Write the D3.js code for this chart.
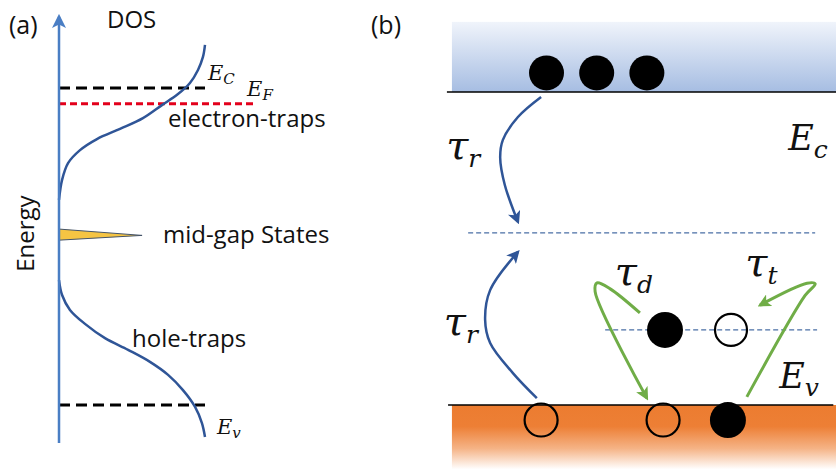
<!DOCTYPE html>
<html>
<head>
<meta charset="utf-8">
<script src="https://cdn.jsdelivr.net/npm/d3@7"></script>
<style>
  body { margin: 0; background: #fff; }
  text { font-family: "Open Sans", sans-serif; fill: #111; }
</style>
</head>
<body>
<div id="container"></div>
<script>
// Width and height
let w = 836;
let h = 472;

// ---- panel (a) data: energy 0 = Ev, 1 = Ec ; dos in arbitrary units ----
// [dos, energy]
let electronTail = [[0, 0.647], [0.021, 0.710], [0.062, 0.763], [0.144, 0.804], [0.260, 0.839], [0.418, 0.871],
                    [0.575, 0.905], [0.705, 0.946], [0.815, 0.981], [0.897, 1.016], [0.952, 1.057], [0.986, 1.098], [1.0, 1.136]];
let holeTail = [[0, 0.394], [0.021, 0.347], [0.075, 0.300], [0.178, 0.256], [0.315, 0.211], [0.473, 0.174],
                [0.623, 0.136], [0.747, 0.095], [0.849, 0.047], [0.932, -0.006], [0.979, -0.057], [1.0, -0.101]];
let midGapSpike = [[0, 0.555], [0.569, 0.535], [0, 0.52]];
let levelNames = ["Ec", "EF", "Ev"];
let levelEnergies = [1.0, 0.95, 0.0];
let levelExtents = [1.0, 1.34, 1.0];
let axisEnergy = [-0.12, 1.225];
let labelsA = ["electron-traps", "mid-gap States", "hole-traps"];
let labelsADos = [0.747, 0.712, 0.5];
let labelsAEnergy = [0.877, 0.511, 0.183];
let mathA = [["E", "C"], ["E", "F"], ["E", "v"]];
let mathADos = [1.02, 1.288, 1.082];
let mathAEnergy = [1.025, 0.975, -0.091];

// ---- panel (b) data: x position 0..100, energy 0 = Ev, 1 = Ec ----
let cbTop = 1.224, vbBottom = -0.214;
let midGapLevel = 0.55, trapLevel = 0.24;
let cbElectrons = [25, 38, 51];
let cbElectronE = 1.061;
let trapFilled = [55.7];
let trapEmpty = [72.8];
let vbHoles = [23.6, 55.2];
let vbElectrons = [72];
let vbCarrierE = -0.048;
// [x, energy]
let tauRDown = [[23.6, 0.984], [17.6, 0.920], [13.7, 0.847], [13.0, 0.790], [14.2, 0.703], [17.6, 0.585]];
let tauRUp = [[22.5, 0.022], [16.3, 0.102], [10.4, 0.198], [9.1, 0.272], [10.4, 0.367], [17.6, 0.489]];
let tauD = [[49.2, 0.294], [41.5, 0.371], [38.1, 0.390], [37.6, 0.362], [51.0, 0.022]];
let tauT = [[76.9, 0.026], [92.0, 0.350], [94.6, 0.387], [92.5, 0.389], [80.3, 0.319]];
let mathB = [["E", "c"], ["τ", "r"], ["τ", "r"], ["τ", "d"], ["τ", "t"], ["E", "v"]];
let mathBX = [87.6, -1.0, -1.6, 42.7, 76.5, 85.3];
let mathBEnergy = [0.815, 0.786, 0.224, 0.383, 0.412, 0.054];

// Create SVG
let svg = d3.select("#container")
  .append("svg")
  .attr("width", w)
  .attr("height", h);

let defs = svg.append("defs");

function arrowMarker(id, color, size) {
  defs.append("marker")
    .attr("id", id)
    .attr("viewBox", "0 0 10 10")
    .attr("refX", 8).attr("refY", 5)
    .attr("markerUnits", "userSpaceOnUse")
    .attr("markerWidth", size).attr("markerHeight", size)
    .attr("orient", "auto")
    .append("path")
    .attr("d", "M0,0 L10,5 L0,10 L2.5,5 z")
    .attr("fill", color);
}
arrowMarker("arrAxis", "#4a7ec4", 14);
arrowMarker("arrBlue", "#2f5597", 13);
arrowMarker("arrGreen", "#70ad47", 13);

let gBlue = defs.append("linearGradient").attr("id", "cbGrad").attr("x1", 0).attr("y1", 0).attr("x2", 0).attr("y2", 1);
gBlue.append("stop").attr("offset", "0%").attr("stop-color", "#f0f4fb");
gBlue.append("stop").attr("offset", "100%").attr("stop-color", "#a6bde2");
let gOrange = defs.append("linearGradient").attr("id", "vbGrad").attr("x1", 0).attr("y1", 0).attr("x2", 0).attr("y2", 1);
gOrange.append("stop").attr("offset", "0%").attr("stop-color", "#ec7c30");
gOrange.append("stop").attr("offset", "32%").attr("stop-color", "#ed7f35");
gOrange.append("stop").attr("offset", "65%").attr("stop-color", "#f5b386");
gOrange.append("stop").attr("offset", "96%").attr("stop-color", "#ffffff");

function mathLabel(g, x, y, main, sub, size, subSize, subDy) {
  let t = g.append("text")
    .attr("x", x).attr("y", y)
    .style("font-family", "'DejaVu Serif', serif")
    .style("font-style", "italic")
    .style("font-size", size + "px");
  t.append("tspan").text(main);
  t.append("tspan").attr("dy", subDy).style("font-size", subSize + "px").text(sub);
}

// ================= panel (a) =================
let xA = d3.scaleLinear().domain([0, 1]).range([59, 205]);
let yA = d3.scaleLinear().domain([0, 1]).range([405, 88]);
let panelA = svg.append("g");

panelA.append("text").attr("x", 9).attr("y", 34).style("font-size", "25px").text("(a)");
panelA.append("text").attr("x", 107).attr("y", 28).style("font-size", "24px").text("DOS");
panelA.append("text")
  .attr("transform", "translate(34," + yA(0.42) + ") rotate(-90)")
  .style("font-size", "24px").text("Energy");

// mid-gap spike
panelA.append("path")
  .attr("d", d3.line().x(d => xA(d[0])).y(d => yA(d[1]))(midGapSpike) + "Z")
  .attr("fill", "#f5c443")
  .attr("stroke", "#44546a")
  .attr("stroke-width", 1);

// level lines
let levelStyle = { Ec: ["#000", "11,6"], EF: ["#e3001b", "7,4"], Ev: ["#000", "11,6"] };
levelNames.forEach(function(n, i) {
  panelA.append("line")
    .attr("x1", xA(0)).attr("x2", xA(levelExtents[i]))
    .attr("y1", yA(levelEnergies[i])).attr("y2", yA(levelEnergies[i]))
    .attr("stroke", levelStyle[n][0])
    .attr("stroke-width", 3)
    .attr("stroke-dasharray", levelStyle[n][1]);
});

// DOS curves
let dosLine = d3.line().x(d => xA(d[0])).y(d => yA(d[1])).curve(d3.curveCatmullRom.alpha(0.5));
[electronTail, holeTail].forEach(function(c) {
  panelA.append("path")
    .attr("d", dosLine(c))
    .attr("fill", "none")
    .attr("stroke", "#2f5597")
    .attr("stroke-width", 2.5);
});

// energy axis
panelA.append("line")
  .attr("x1", xA(0)).attr("x2", xA(0))
  .attr("y1", yA(axisEnergy[0])).attr("y2", yA(axisEnergy[1]))
  .attr("stroke", "#4a7ec4")
  .attr("stroke-width", 2.5)
  .attr("marker-end", "url(#arrAxis)");

labelsA.forEach(function(t, i) {
  panelA.append("text")
    .attr("x", xA(labelsADos[i])).attr("y", yA(labelsAEnergy[i]))
    .style("font-size", "24px").text(t);
});
mathA.forEach(function(m, i) {
  mathLabel(panelA, xA(mathADos[i]), yA(mathAEnergy[i]), m[0], m[1], 21, 15, 4);
});

// ================= panel (b) =================
let xB = d3.scaleLinear().domain([0, 100]).range([450, 836]);
let yB = d3.scaleLinear().domain([0, 1]).range([405, 92]);
let panelB = svg.append("g");

panelB.append("text").attr("x", 371).attr("y", 34).style("font-size", "25px").text("(b)");

// bands
panelB.append("rect")
  .attr("x", xB(0.5)).attr("y", yB(cbTop))
  .attr("width", xB(100) - xB(0.5)).attr("height", yB(1) - yB(cbTop))
  .attr("fill", "url(#cbGrad)");
panelB.append("rect")
  .attr("x", xB(0.5)).attr("y", yB(0))
  .attr("width", xB(100) - xB(0.5)).attr("height", yB(vbBottom) - yB(0))
  .attr("fill", "url(#vbGrad)");
panelB.append("line")
  .attr("x1", xB(-0.8)).attr("x2", xB(100)).attr("y1", yB(1)).attr("y2", yB(1))
  .attr("stroke", "#000").attr("stroke-width", 1.5);
panelB.append("line")
  .attr("x1", xB(-0.5)).attr("x2", xB(99.3)).attr("y1", yB(0)).attr("y2", yB(0))
  .attr("stroke", "#000").attr("stroke-width", 1.5);

// dashed levels
panelB.append("line")
  .attr("x1", xB(4.7)).attr("x2", xB(94.6)).attr("y1", yB(midGapLevel)).attr("y2", yB(midGapLevel))
  .attr("stroke", "#4a6fa5").attr("stroke-width", 1.3).attr("stroke-dasharray", "5,3");
panelB.append("line")
  .attr("x1", xB(40.2)).attr("x2", xB(95.1)).attr("y1", yB(trapLevel)).attr("y2", yB(trapLevel))
  .attr("stroke", "#4a6fa5").attr("stroke-width", 1.3).attr("stroke-dasharray", "5,3");

// arrows
let arrLine = d3.line().x(d => xB(d[0])).y(d => yB(d[1])).curve(d3.curveCatmullRom.alpha(0.5));
[tauRDown, tauRUp].forEach(function(a) {
  panelB.append("path").attr("d", arrLine(a))
    .attr("fill", "none").attr("stroke", "#2f5597").attr("stroke-width", 2.5)
    .attr("marker-end", "url(#arrBlue)");
});
[tauD, tauT].forEach(function(a) {
  panelB.append("path").attr("d", arrLine(a))
    .attr("fill", "none").attr("stroke", "#70ad47").attr("stroke-width", 3)
    .attr("stroke-linejoin", "round")
    .attr("marker-end", "url(#arrGreen)");
});

// carriers
function carriers(xs, e, filled, r) {
  panelB.selectAll(null)
    .data(xs)
    .enter()
    .append("circle")
    .attr("cx", d => xB(d))
    .attr("cy", yB(e))
    .attr("r", r)
    .attr("fill", filled ? "#000" : "none")
    .attr("stroke", "#000")
    .attr("stroke-width", filled ? 0 : 2.2);
}
carriers(cbElectrons, cbElectronE, true, 17.5);
carriers(trapFilled, trapLevel, true, 18);
carriers(trapEmpty, trapLevel, false, 16);
carriers(vbHoles, vbCarrierE, false, 16.5);
carriers(vbElectrons, vbCarrierE, true, 18);

mathB.forEach(function(m, i) {
  let big = m[0] === "E" ? 35 : 40;
  mathLabel(panelB, xB(mathBX[i]), yB(mathBEnergy[i]), m[0], m[1], big, 25, 8);
});
</script>
</body>
</html>
